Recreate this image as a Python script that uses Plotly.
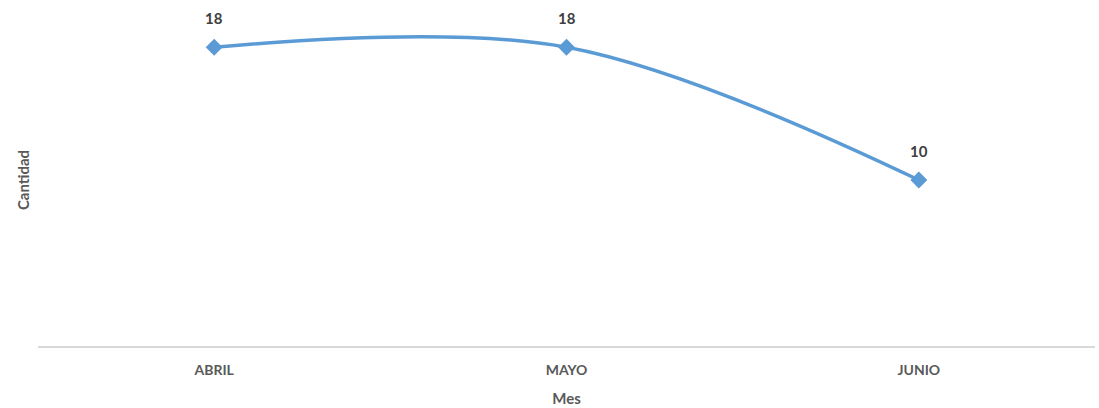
import plotly.graph_objects as go

# Monthly counts
meses = ["ABRIL", "MAYO", "JUNIO"]
cantidad = [18, 18, 10]

linea = "#5B9BD5"
fuente = "Lato, 'Open Sans', sans-serif"

fig = go.Figure()
fig.add_trace(go.Scatter(
    x=meses, y=cantidad,
    mode="lines+markers",
    line=dict(color=linea, width=3.5, shape="spline", smoothing=1.0),
    marker=dict(symbol="diamond", size=13, color=linea),
    hoverinfo="skip",
    showlegend=False,
))

# Value labels above each point
for m, v in zip(meses, cantidad):
    fig.add_annotation(
        x=m, y=v, text=f"<b>{v}</b>", showarrow=False,
        yshift=29, font=dict(family=fuente, size=15, color="#404040"),
    )

fig.update_layout(
    width=1099, height=408,
    margin=dict(l=38, r=4, t=14, b=62),
    paper_bgcolor="white", plot_bgcolor="white",
    font=dict(family=fuente, color="#595959"),
)
fig.update_xaxes(
    range=[-0.5, 2.5],
    showgrid=False, zeroline=False,
    showline=True, linecolor="#D9D9D9", linewidth=1.5,
    ticks="", ticklabelstandoff=10,
    tickfont=dict(family=fuente, size=14, color="#595959"),
    tickprefix="<b>", ticksuffix="</b>",
    title=dict(text="<b>Mes</b>", font=dict(family=fuente, size=15, color="#595959"), standoff=17),
)
fig.update_yaxes(
    range=[0, 20], showgrid=False, zeroline=False, showline=False,
    showticklabels=False, ticks="",
    title=dict(text="<b>Cantidad</b>", font=dict(family=fuente, size=15, color="#595959"), standoff=3),
)

fig.write_html("out.html")
